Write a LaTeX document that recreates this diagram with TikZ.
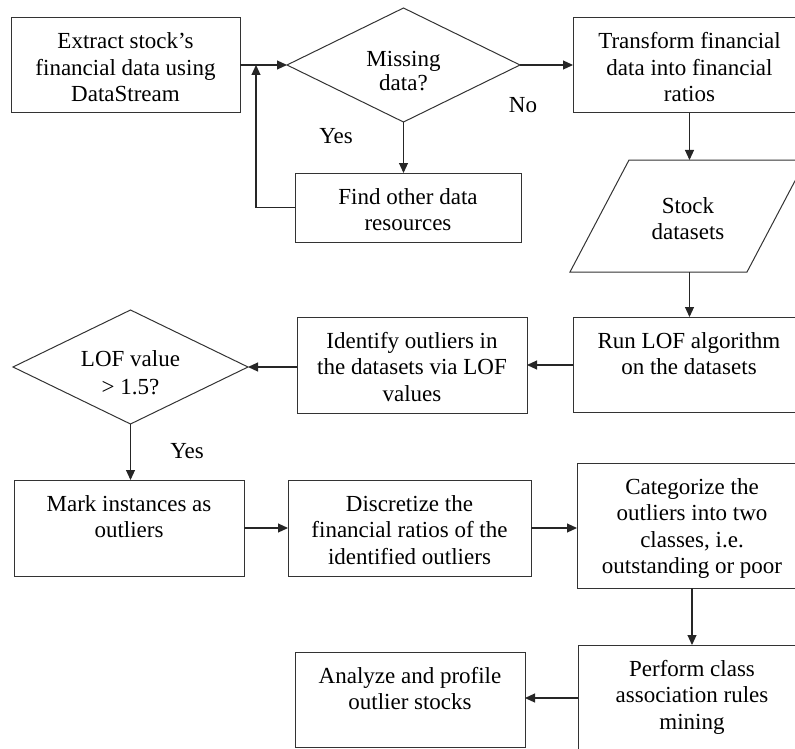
\documentclass[tikz,border=0pt]{standalone}
\usepackage{fontspec}
\setmainfont{Liberation Serif}
\usetikzlibrary{arrows.meta,shapes.geometric}
\newcommand\flowbox[6]{\node[fbox,anchor=north west] (#1) at (#2,#3) {\parbox[t][\dimexpr#5pt-#3pt\relax][t]{\dimexpr#4pt-#2pt\relax}{\centering\rule{0pt}{31pt}#6\par}};}
\newcommand\txtnode[4]{\node[anchor=north,inner sep=0pt] (#1) at (#2,#3-31) {\parbox[t]{200pt}{\centering\rule{0pt}{31pt}#4\par}};}
\begin{document}
\begin{tikzpicture}[x=1pt,y=-1pt,
  every node/.style={font=\fontsize{23}{26.5}\selectfont, text=black},
  fbox/.style={draw=black!80, line width=1pt, inner sep=0pt, outer sep=0pt},
  arr/.style={draw=black!85, line width=1.1pt, -{Triangle[length=10pt,width=9pt]}},
  ln/.style={draw=black!85, line width=1.1pt},
  dia/.style={diamond, draw=black!80, line width=1pt, inner sep=0pt, outer sep=0pt, minimum width=233pt, minimum height=114pt}]
\useasboundingbox (0,0) rectangle (795,749);
\clip (0,0) rectangle (795,749);

% boxes
\flowbox{extract}{11}{18}{240}{113}{Extract stock’s\\financial data using\\DataStream}
\flowbox{find}{295}{173}{521}{242}{Find other data\\resources}
\flowbox{transform}{573}{18}{806}{113}{Transform financial\\data into financial\\ratios}
\flowbox{run}{573}{317}{805}{412}{Run LOF algorithm\\on the datasets}
\flowbox{identify}{297}{317}{527}{413}{Identify outliers in\\the datasets via LOF\\values}
\flowbox{mark}{14}{480}{244}{576}{Mark instances as\\outliers}
\flowbox{disc}{288}{480}{531}{576}{Discretize the\\financial ratios of the\\identified outliers}
\flowbox{cat}{577}{463}{807}{588}{Categorize the\\outliers into two\\classes, i.e.\\outstanding or poor}
\flowbox{perf}{578}{645}{806}{760}{Perform class\\association rules\\mining}
\flowbox{ana}{295}{652}{525}{747}{Analyze and profile\\outlier stocks}

% decisions
\node[dia] (d1) at (403.5,65) {};
\txtnode{d1t}{403.5}{66}{Missing\\[-2.5pt]data?}
\node[dia, minimum width=235pt] (d2) at (130.5,367) {};
\txtnode{d2t}{130.5}{366}{LOF value\\[1.5pt]> 1.5?}

% data (parallelogram)
\draw[draw=black!80, line width=1pt] (629,160) -- (806,160) -- (747,272) -- (570,272) -- cycle;
\coordinate (ptop) at (689.5,160);
\coordinate (pbot) at (689.5,272);
\txtnode{stock}{688}{213}{Stock\\datasets}

% labels
\node[anchor=base] (yes1) at (336,143) {Yes};
\node[anchor=base] (no1) at (523,113) {No};
\node[anchor=base] (yes2) at (187,458) {Yes};

% connectors
\coordinate (junc) at (256,65);
\draw[arr] (extract.east |- d1.west) -- (d1.west);
\draw[arr] (find.west) -| (junc);
\draw[arr] (d1.south) -- (d1.south |- find.north);
\draw[arr] (d1.east) -- (d1.east -| transform.west);
\draw[arr] (transform.south) -- (ptop);
\draw[arr] (pbot) -- (pbot |- run.north);
\draw[arr] (run.west |- identify.east) -- (identify.east);
\draw[arr] (identify.west |- d2.east) -- (d2.east);
\draw[arr] (d2.south) -- (d2.south |- mark.north);
\draw[arr] (mark.east) -- (mark.east -| disc.west);
\draw[arr] (disc.east) -- (disc.east -| cat.west);
\draw[arr] (cat.south) -- (cat.south |- perf.north);
\draw[arr] (perf.west |- 0,698) -- (ana.east |- 0,698);
\end{tikzpicture}
\end{document}
